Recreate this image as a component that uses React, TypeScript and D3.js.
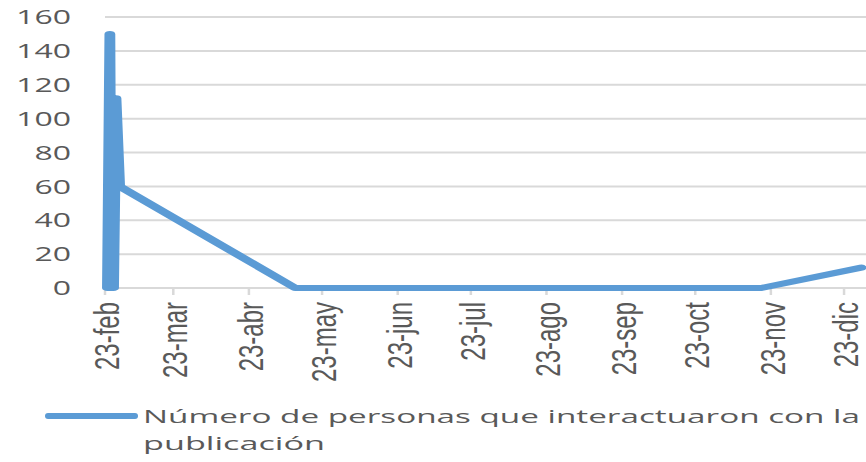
import React from "react";
import * as d3 from "d3";

// ---- data ----
const dates: string[] = [
  "2017-02-24T00:00", "2017-02-25T00:00", "2017-02-25T12:00", "2017-02-26T00:00",
  "2017-02-26T12:00", "2017-02-27T12:00", "2017-03-01T00:00", "2017-05-12T00:00",
  "2017-11-19T00:00", "2017-12-30T00:00",
];
const values: number[] = [0, 150, 0, 100, 0, 112, 60, 0, 0, 12];
const tickDates: string[] = [
  "2017-02-23T00:00", "2017-03-23T00:00", "2017-04-23T00:00", "2017-05-23T00:00",
  "2017-06-23T00:00", "2017-07-23T00:00", "2017-08-23T00:00", "2017-09-23T00:00",
  "2017-10-23T00:00", "2017-11-23T00:00", "2017-12-23T00:00",
];
const tickLabels: string[] = [
  "23-feb", "23-mar", "23-abr", "23-may", "23-jun", "23-jul",
  "23-ago", "23-sep", "23-oct", "23-nov", "23-dic",
];
const yTicks: number[] = [0, 20, 40, 60, 80, 100, 120, 140, 160];
const seriesName = "Número de personas que interactuaron con la";
const seriesName2 = "publicación";

const W = 866;
const H = 462;
const SX = 1.8; // horizontal stretch of the reference rendering
const BLUE = "#5b9bd5";
const GRID = "#d9d9d9";
const TEXT = "#595959";

const parse = d3.timeParse("%Y-%m-%dT%H:%M");

export default function App() {
  const x = d3
    .scaleTime()
    .domain([parse("2017-02-23T00:00")!, parse("2018-01-01T00:00")!])
    .range([105, 866]);
  const y = d3.scaleLinear().domain([0, 160]).range([288, 17]);

  const pts = dates.map((d, i) => ({ date: parse(d)!, v: values[i] }));
  const line = d3
    .line<{ date: Date; v: number }>()
    .x((d) => x(d.date) / SX)
    .y((d) => y(d.v));

  const [x0, x1] = x.range();

  return (
    <svg
      width={W}
      height={H}
      style={{ position: "absolute", left: 0, top: 0, background: "#fff" }}
    >
      {/* gridlines */}
      {yTicks.map((t) => (
        <line key={"g" + t} x1={x0} x2={x1} y1={y(t)} y2={y(t)} stroke={GRID} strokeWidth={2} />
      ))}
      {/* y labels */}
      {yTicks.map((t) => (
        <text
          key={"yl" + t}
          transform={`translate(71,${y(t)}) scale(1.6,1)`}
          textAnchor="end"
          dy="0.36em"
          fontFamily="'Open Sans', sans-serif"
          fontSize={20}
          fill={TEXT}
        >
          {t}
        </text>
      ))}
      {/* x ticks & labels */}
      {tickDates.map((d, i) => {
        const tx = x(parse(d)!);
        return (
          <g key={"xt" + d}>
            <line x1={tx} x2={tx} y1={288} y2={295} stroke={GRID} strokeWidth={2.5} />
            <text
              transform={`translate(${tx + 14},302) rotate(-90) scale(1,1.45)`}
              textAnchor="end"
              fontFamily="'Liberation Sans', Arial, sans-serif"
              fontSize={24}
              fill={TEXT}
            >
              {tickLabels[i]}
            </text>
          </g>
        );
      })}
      {/* series line */}
      <g transform={`scale(${SX},1)`}>
        <path
          d={line(pts) || ""}
          fill="none"
          stroke={BLUE}
          strokeWidth={6}
          strokeLinejoin="round"
          strokeLinecap="round"
        />
      </g>
      {/* legend */}
      <line x1={48} x2={135} y1={416} y2={416} stroke={BLUE} strokeWidth={6} strokeLinecap="round" />
      <text
        x={143}
        y={423}
        fontFamily="'Open Sans', sans-serif"
        fontSize={18.5}
        fill={TEXT}
        textLength={717}
        lengthAdjust="spacingAndGlyphs"
      >
        {seriesName}
      </text>
      <text
        x={143}
        y={450}
        fontFamily="'Open Sans', sans-serif"
        fontSize={18.5}
        fill={TEXT}
        textLength={182}
        lengthAdjust="spacingAndGlyphs"
      >
        {seriesName2}
      </text>
    </svg>
  );
}
